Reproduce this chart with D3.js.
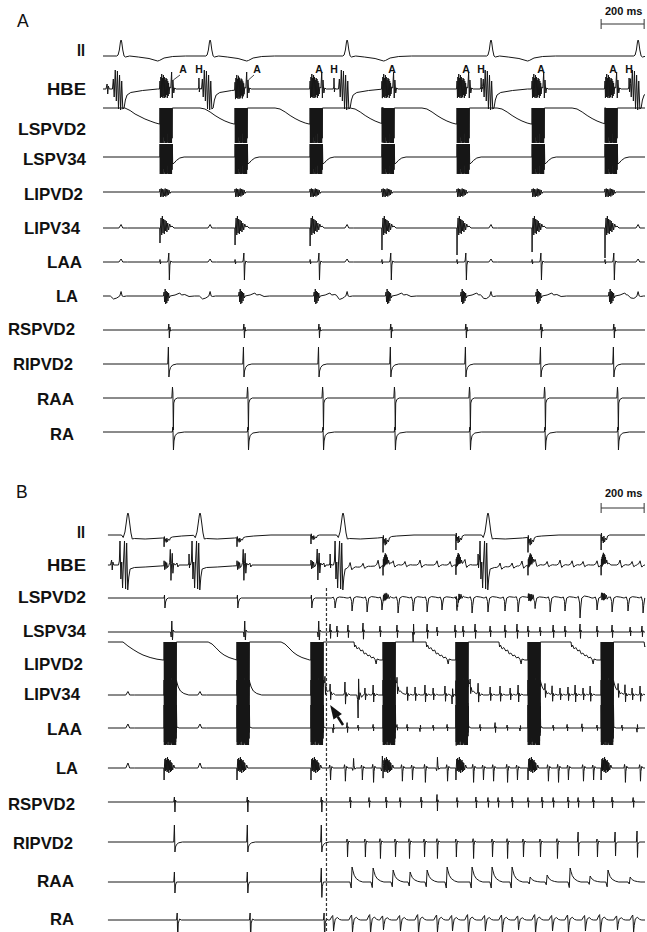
<!DOCTYPE html>
<html><head><meta charset="utf-8">
<script src="https://cdn.jsdelivr.net/npm/d3@7"></script>
<style>body{margin:0;background:#fff}svg{display:block}</style>
</head><body>
<svg id="c" width="647" height="932"></svg>
<script>
// ================= DATA =================
const channels = ["II","HBE","LSPVD2","LSPV34","LIPVD2","LIPV34","LAA","LA","RSPVD2","RIPVD2","RAA","RA"];
const scaleBarMs = 200;

// Panel A (times in ms)
const pacingA = [265, 614, 963, 1297, 1646, 1995, 2334];
const qrsA = [84, 498, 1135, 1804, 2488];
const hisA = [446, 1074, 1758, 2446];
const aLabelA = [372, 716, 1004, 1344, 1688, 2037, 2372];
const lipv34DepthA = [1.5, 1.7, 1.8, 2.2, 2.7, 2.4, 3.0];

// Panel B (times in ms)
const pacingB = [284, 623, 967, 1302, 1641, 1976, 2316];
const qrsB = [116, 451, 1116, 1790];
const hisB = [400, 1056, 1744];
const afOnsetB = 1039;
const raaAmpB = [1, 1, 1.4];
const stimIIAmpB = [0.6, 0.6, 0.6, 1, 1, 1, 1];

// AF activations in panel B: [time ms, amplitude]
const afHBE = [[1149,0.7],[1209,0.5],[1279,0.8],[1349,0.6],[1404,0.5],[1474,0.7],[1553,0.6],[1614,0.5],[1683,0.7],[1846,0.6],[1902,0.5],[1948,0.7],[2009,0.6],[2065,0.5],[2125,0.7],[2181,0.6],[2232,0.5],[2297,0.6],[2404,0.7],[2460,0.5],[2497,0.6]];
const afLSPVD2 = [[1079,1.0],[1158,1.3],[1228,1.4],[1297,1.2],[1372,1.5],[1442,1.3],[1507,1.4],[1576,1.2],[1646,1.3],[1716,1.5],[1790,1.4],[1869,1.3],[1930,1.4],[2009,1.1],[2079,1.4],[2148,1.3],[2218,2.0],[2297,1.2],[2367,1.4],[2441,1.3],[2511,1.5]];
const afLSPV34 = [[1056,0.8],[1088,0.6],[1139,0.7],[1209,0.9],[1288,0.6],[1367,0.7],[1442,-1.0],[1507,0.8],[1553,0.5],[1637,0.7],[1674,0.6],[1730,0.8],[1800,0.6],[1869,0.7],[1925,0.8],[1976,0.6],[2032,0.5],[2093,0.7],[2148,0.6],[2218,0.8],[2297,0.6],[2367,0.7],[2451,0.5],[2506,0.6]];
const afLIPV34 = [[1032,1.0],[1056,0.9],[1125,1.3],[1186,-2.3],[1218,0.7],[1256,1.0],[1367,0.9],[1414,0.8],[1451,0.8],[1497,1.0],[1535,0.7],[1590,0.9],[1623,-0.9],[1707,0.8],[1744,1.1],[1800,0.8],[1846,0.9],[1893,0.7],[1930,1.0],[2055,0.8],[2088,0.9],[2125,0.7],[2162,0.8],[2195,1.0],[2232,0.7],[2265,0.9],[2395,0.8],[2427,1.0],[2460,0.7],[2497,0.9]];
const afLAA = [[1070,-0.8],[1135,0.9],[1186,0.5],[1256,0.6],[1367,0.5],[1414,0.6],[1474,-0.6],[1535,0.5],[1600,0.6],[1697,0.5],[1753,0.6],[1823,0.9],[1879,0.5],[1939,-0.5],[2032,0.6],[2093,0.5],[2158,0.6],[2227,0.7],[2297,0.5],[2358,0.6],[2413,0.5],[2483,-0.7]];
const afLA = [[1056,1.0],[1125,1.1],[1163,-0.8],[1204,1.0],[1256,1.2],[1297,-1.0],[1390,1.1],[1437,1.0],[1497,1.2],[1553,-0.9],[1600,1.1],[1721,1.2],[1767,1.0],[1814,1.1],[1879,1.2],[1925,1.0],[2069,1.1],[2116,1.2],[2162,1.0],[2232,1.1],[2279,1.0],[2427,1.2],[2497,1.1]];
const afRSPVD2 = [[1149,1.0],[1237,0.9],[1316,1.0],[1381,0.9],[1479,1.0],[1553,1.5],[1646,0.9],[1734,1.0],[1790,0.9],[1837,0.9],[1902,1.0],[1976,0.9],[2041,1.0],[2093,0.9],[2162,1.0],[2209,0.9],[2279,1.0],[2367,1.0],[2465,0.9]];
const afRIPVD2 = [[1135,1.0],[1218,1.0],[1288,1.1],[1358,1.0],[1423,1.1],[1493,1.0],[1553,1.1],[1641,1.0],[1721,1.1],[1809,1.0],[1879,1.1],[1953,1.0],[2032,1.0],[2111,1.1],[2297,1.0]];
const afRIPVD2Up = [[2209,1.0],[2381,1.0],[2483,1.1]];
const afRAA = [[1158,1.5],[1256,1.4],[1349,1.2],[1428,1.0],[1507,1.2],[1600,1.5],[1716,1.5],[1809,1.5],[1902,1.5],[1986,0.5],[2065,0.7],[2172,1.4],[2265,0.6],[2348,1.2],[2451,0.5]];
const afRA = [[1070,1.0],[1158,1.1],[1242,1.2],[1302,0.9],[1381,1.0],[1465,1.2],[1553,1.1],[1623,1.0],[1697,1.2],[1776,1.0],[1855,1.1],[1930,0.9],[2009,1.2],[2088,1.0],[2162,1.1],[2241,1.0],[2311,1.2],[2390,0.9],[2465,1.1]];

// Waveform templates: [ms offset, amplitude]
const blockPattern = [1,0.92,1,0.55,0.98,1,0.7,1,0.9,0.6,1,0.95,1,0.5,0.97,1,0.8,1,0.65,1,0.9,1,0.75];
const tplQrsA = [[-20,0],[-14,0.1],[-8,0.6],[-3,1.4],[0,1.6],[3,1.4],[8,0.6],[14,0],[20,-0.1],[40,0],[80,-0.1],[130,-0.25],[170,-0.5],[178,-0.45],[200,-0.2],[240,-0.05],[300,0]];
const tplQrsB = [[-30,0],[-22,-0.25],[-14,0.3],[-8,1.2],[-3,2.0],[0,2.2],[3,2.0],[8,1.2],[14,0.2],[20,-0.4],[30,-0.35],[80,-0.4],[160,-0.3],[250,-0.1],[330,0]];
const tplStimII = [[-1,0],[0,-1.5],[1.5,0.2],[4,-0.6],[7,-0.2],[10,-0.8],[13,-0.1],[16,-0.7],[20,-0.3],[25,-0.5],[30,-0.1],[40,0]];
const tplHbeSmall = [[-5,0],[0,0.5],[3,-0.5],[6,0.3],[10,0]];
const tplHbePaceA = [[-2,0],[0,0.8],[2,-0.9],[4,1.2],[6,-0.8],[8,1.5],[10,-0.8],[12,1.1],[14,-0.9],[16,1.4],[18,-0.7],[20,1.2],[22,-0.9],[24,0.9],[26,-0.8],[28,1.1],[30,-0.6],[32,1.0],[34,-0.9],[36,0.8],[38,-0.7],[40,0.6],[42,-0.5],[45,0.2],[50,0.1],[54,1.7],[57,-0.9],[60,0.9],[64,-0.4],[68,0.1],[75,0]];
const tplHis = [[-4,0],[-1,0.2],[0,1.1],[2,-0.3],[4,0.1],[7,0]];
const tplHbeVA = [[-40,0],[-36,1.0],[-32,-0.8],[-27,1.9],[-22,-1.2],[-17,1.8],[-12,-2.0],[-7,1.4],[-2,-2.1],[3,0.8],[8,-2.0],[14,-1.9],[20,-1.1],[28,-0.6],[45,-0.35],[100,-0.15],[170,0]];
const tplHbePaceB = [[-1,0],[0,0.5],[3,-0.4],[6,0.4],[9,-0.3],[12,0.3],[16,-0.2],[22,0],[26,0.3],[29,1.6],[32,-1.5],[35,0.2],[38,1.2],[41,-0.8],[45,0.2],[52,0],[60,0.2],[64,-0.2],[70,0]];
const tplHbePaceAF = [[-1,0],[0,-1.0],[1.5,0.6],[3,-0.2],[4.5,0.8],[6,-0.1],[7.5,1.0],[9,0],[10.5,1.2],[12,0.1],[13.5,1.1],[15,0.2],[16.5,1.0],[18,0.1],[20,0.8],[23,0.2],[26,0.5],[30,0.1],[36,0.2],[45,0]];
const tplHbeVB = [[-44,0],[-40,0.4],[-37,2.4],[-33,-1.4],[-29,0.3],[-25,-2.3],[-21,0.2],[-16,2.4],[-11,-2.4],[-6,2.2],[-1,-2.5],[4,-1.2],[10,-0.4],[30,-0.25],[80,-0.2],[150,-0.1],[230,0]];
const tplAfBump = [[-15,0],[-6,0.2],[0,0.7],[4,0.1],[8,-0.35],[15,-0.1],[25,0.05],[35,0]];
const tplD2TailA = [[0,1.6],[102,1.6],[126,1.35],[149,1.0],[172,0.75],[195,0.5],[219,0.3],[242,0.12],[262,0]];
const tailD2A = [[60,1.6],[186,1.6],[209,1.5],[233,1.2],[256,0.85],[279,0.55],[302,0.3],[326,0.1],[344,0]];
const tail34A = [[59,-0.7],[66,-0.6],[76,-0.35],[92,-0.1],[112,0]];
const tplLipvd2BurstA = [[-2,0],[0,0.3],[3,-0.5],[6,0.35],[9,-0.45],[12,0.3],[15,-0.5],[18,0.25],[21,-0.4],[24,0.35],[27,-0.45],[30,0.3],[33,-0.35],[36,0.25],[39,-0.3],[42,0.2],[46,-0.15],[50,0]];
const tplSpikeDown = [[-1,0],[0,-1],[1.5,0]];
const tplLipv34BurstA = [[2,0],[5,1.0],[8,-0.7],[11,1.2],[14,-0.5],[17,0.9],[20,-0.6],[23,0.8],[26,-0.3],[29,0.7],[32,-0.4],[36,0.5],[40,-0.2],[45,0.4],[50,0.1],[56,0.2],[65,0]];
const tplFF = [[-10,0],[0,1],[8,0],[30,0]];
const tplStimNotch = [[-1,0],[0,0.25],[2,-0.2],[4,0]];
const tplLaaA = [[35,0],[38,0.2],[41,0.9],[43.5,-1.8],[46,-0.3],[50,0.1],[56,0]];
const tplLaA = [[16,0],[19,0.4],[21.5,-0.6],[24,0.7],[26.5,-0.8],[29,0.5],[31.5,-0.7],[34,0.4],[37,-0.5],[40,0.3],[43,-0.2],[47,0],[70,0.1],[92,0.3],[100,0.1],[115,0.15],[135,-0.05],[160,0]];
const tplLaFF = [[-50,0],[-35,-0.3],[-20,-0.2],[-6,0],[0,0.45],[5,0],[12,-0.05],[25,0]];
const tplRspvA = [[38,0],[41,0.6],[43.5,-0.8],[46,0.3],[49,-0.1],[55,0]];
const tplRipvA = [[36,0],[39,1.7],[41.5,-1.3],[44,-0.7],[49,-0.35],[59,-0.1],[78,0]];
const tplRaaA = [[55,0],[58,1.1],[60,0.5],[62,-3.2],[64,-0.5],[69,-0.15],[80,0]];
const tplRaA = [[57,0],[60,0.5],[62.5,-1.8],[65,-0.9],[70,-0.35],[83,-0.1],[113,0]];
const tplLspvd2SpikeB = [[0,0],[2,0.3],[4,-1.0],[7,-0.4],[12,-0.1],[20,0]];
const tplSmallBurst = [[0,0],[2,0.5],[4,-0.4],[6,0.5],[8,-0.3],[10,0.4],[12,-0.4],[14,0.5],[16,-0.3],[18,0.4],[20,-0.2],[24,0.3],[28,-0.2],[34,0.1],[40,0]];
const tplAfDip = [[-18,0],[-8,0.08],[-2,-0.25],[0,-1],[3,-0.5],[8,0],[20,0.1],[40,0.06],[55,0]];
const tplLspv34SpikeB = [[30,0],[33,-0.5],[36,1.1],[39,-0.8],[42,0.2],[48,0]];
const tplAfBi = [[-3,0],[0,1],[2,-0.8],[4,0.25],[7,0]];
const tplD2TailB = [[0,1.8],[93,1.8],[116,1.4],[140,1.05],[163,0.75],[186,0.5],[219,0.25],[251,0.08],[279,0]];
const tailD2B = [[60,1.8],[205,1.8],[223,1.6],[242,1.2],[260,0.8],[279,0.5],[302,0.25],[326,0.08],[338,0]];
const tailD2BAF = [[60,1.8],[200,1.8],[203,1.3],[207,1.5],[215,1.1],[222,1.25],[232,0.9],[240,1.0],[248,0.6],[255,0.7],[265,0.4],[272,0.5],[282,0.2],[290,0.3],[298,0.05],[303,-0.4],[307,0.1],[320,0]];
const tail34B = [[59,1.3],[66,0.8],[76,0.4],[92,0.15],[115,0]];
const tailLaaB = [[59,0.1],[70,0]];
const tplAfBi34 = [[-6,0],[-2,0.2],[0,1],[2.5,-0.7],[5,0.2],[9,-0.1],[16,0.1],[24,0]];
const tplAfBiSmall = [[-3,0],[0,0.6],[2,-0.5],[4,0.15],[7,0]];
const tplLaBurstB = [[-1,0],[0,-1.2],[2,0.3],[4,0.9],[6,-0.3],[8,1.0],[10,-0.2],[12,0.8],[14,-0.4],[16,1.1],[18,-0.3],[20,0.9],[22,-0.5],[24,0.7],[26,-0.2],[28,0.8],[30,-0.4],[32,0.6],[34,-0.3],[36,0.5],[40,-0.2],[45,0.3],[50,0],[60,0]];
const tplAfLa = [[-5,0],[-2,0.3],[0,0.1],[2,-1.2],[4,-0.3],[8,0.15],[14,0]];
const tplRspvB = [[45,0],[48,0.5],[50.5,-1.0],[53,0.2],[57,0]];
const tplAfRspv = [[-3,0],[0,0.5],[2,-0.6],[4,0.15],[7,0]];
const tplRipvB = [[45,0],[48,1.7],[50.5,-1.0],[53,-0.5],[58,-0.25],[68,-0.08],[85,0]];
const tplAfRipv = [[-3,0],[0,0.3],[2,-1.5],[4,-0.3],[8,0.1],[14,0]];
const tplAfRipvUp = [[-3,0],[0,1.0],[2,-1.4],[4,-0.2],[10,0]];
const tplRaaB = [[45,0],[48,1.0],[50.5,-1.1],[53,-0.3],[58,0]];
const tplAfRaa = [[-10,0],[-4,-0.4],[0,1.0],[4,0.75],[10,0.45],[20,0.22],[35,0.07],[50,0]];
const tplRaB = [[58,0],[61,0.7],[63.5,-2.0],[66,-0.3],[72,0.1],[80,0]];
const tplAfRa = [[-15,0],[-6,0.35],[-2,0.45],[0,-0.1],[2,-1.1],[5,-0.5],[10,0.1],[20,0.25],[30,0.05],[40,0]];

// ================= LAYOUT =================
const baseA = [56, 89, 124, 157, 192, 228, 262, 296, 330, 364, 398, 432];
const baseB = [535, 565, 598, 632, 660, 695, 728, 768, 802, 842, 882, 920];
const labelYA = [50, 89, 129, 159, 194, 228, 262, 296, 329, 364, 399, 434];
const labelYB = [532, 565, 597, 631, 664, 694, 729, 768, 804, 843, 881, 919];
const labelRight = [85, 86, 86, 86, 83, 80, 82, 78, 75, 73, 74, 74];
const labelWidth = [8, 39, 68, 63, 59, 56, 35, 22, 67, 60, 37, 24];

// ================= BUILD =================
const svg = d3.select("#c");
const x = d3.scaleLinear().domain([0, 2520]).range([103, 645]);
const ink = "#161616";
const font = "Liberation Sans, Arial, sans-serif";

function makeBlock(hi, lo, tail) {
  const pts = [[-0.5, 0], [0, hi]];
  blockPattern.forEach((f, i) => { pts.push([1.25 + i * 2.5, lo * f]); pts.push([2.5 + i * 2.5, hi]); });
  return pts.concat(tail);
}
const bis = d3.bisector(d => d[0]).right;
function tplValue(tpl, dt) {
  const n = tpl.length;
  if (dt < tpl[0][0] || dt > tpl[n - 1][0]) return 0;
  const i = bis(tpl, dt);
  if (i >= n) return tpl[n - 1][1];
  if (i === 0) return tpl[0][1];
  const a = tpl[i - 1], b = tpl[i];
  return a[1] + (b[1] - a[1]) * (dt - a[0]) / (b[0] - a[0]);
}
function ev(times, tpl, amps) {
  return times.map((t, i) => ({ t, tpl, a: amps == null ? 1 : (Array.isArray(amps) ? amps[i] : amps) }));
}
function evPairs(pairs, tpl) { return pairs.map(([t, a]) => ({ t, tpl, a })); }
function buildSignal(events, t0, t1) {
  const ts = new Set([t0, t1]);
  events.forEach(e => e.tpl.forEach(k => { const t = e.t + k[0]; if (t > t0 && t < t1) ts.add(t); }));
  const arr = Array.from(ts).sort((a, b) => a - b);
  return arr.map(t => [t, d3.sum(events, e => e.a * tplValue(e.tpl, t - e.t))]);
}

const blockD2A = makeBlock(1.6, -1.9, tailD2A);
const block34A = makeBlock(1.3, -1.7, tail34A);
const blockD2B = makeBlock(1.8, -3.6, tailD2B);
const blockD2BAF = makeBlock(1.8, -3.6, tailD2BAF);
const block34B = makeBlock(1.5, -5.0, tail34B);
const blockLaaB = makeBlock(2.3, -1.4, tailLaaB);

const pre = pacingB.slice(0, 3), postP = pacingB.slice(3);
const eventsA = [
  ev(qrsA, tplQrsA),
  [].concat(ev([19], tplHbeSmall), ev(pacingA, tplHbePaceA), ev(hisA, tplHis), ev(qrsA, tplHbeVA)),
  [].concat(ev([0], tplD2TailA), ev(pacingA, blockD2A)),
  ev(pacingA, block34A),
  ev(pacingA, tplLipvd2BurstA),
  [].concat(ev(pacingA, tplSpikeDown, lipv34DepthA), ev(pacingA, tplLipv34BurstA), ev(qrsA, tplFF, 0.35)),
  [].concat(ev(pacingA, tplStimNotch), ev(pacingA, tplLaaA), ev(qrsA, tplFF, 0.3)),
  [].concat(ev(pacingA, tplLaA), ev(qrsA, tplLaFF)),
  ev(pacingA, tplRspvA),
  ev(pacingA, tplRipvA),
  ev(pacingA, tplRaaA),
  ev(pacingA, tplRaA)
];
const eventsB = [
  [].concat(ev(qrsB, tplQrsB), ev(pacingB, tplStimII, stimIIAmpB)),
  [].concat(ev([40], tplHbeSmall), ev(pre, tplHbePaceB), ev(postP, tplHbePaceAF), ev(hisB, tplHis), ev(qrsB, tplHbeVB), evPairs(afHBE, tplAfBump)),
  [].concat(ev(pre, tplLspvd2SpikeB), ev(postP, tplSmallBurst, 0.8), evPairs(afLSPVD2, tplAfDip)),
  [].concat(ev(pre, tplLspv34SpikeB), evPairs(afLSPV34, tplAfBi)),
  [].concat(ev([0], tplD2TailB), ev(pacingB.slice(0, 2), blockD2B), ev(pacingB.slice(2), blockD2BAF)),
  [].concat(ev(pacingB, block34B), ev(qrsB.slice(0, 2), tplFF, 0.35), evPairs(afLIPV34, tplAfBi34)),
  [].concat(ev(pacingB, blockLaaB), ev(qrsB.slice(0, 2), tplFF, 0.4), evPairs(afLAA, tplAfBiSmall)),
  [].concat(ev(pacingB, tplLaBurstB), ev(qrsB.slice(0, 2), tplFF, 0.5), evPairs(afLA, tplAfLa)),
  [].concat(ev(pre, tplRspvB), evPairs(afRSPVD2, tplAfRspv)),
  [].concat(ev(pre, tplRipvB), evPairs(afRIPVD2, tplAfRipv), evPairs(afRIPVD2Up, tplAfRipvUp)),
  [].concat(ev(pre, tplRaaB, raaAmpB), evPairs(afRAA, tplAfRaa)),
  [].concat(ev(pre, tplRaB), evPairs(afRA, tplAfRa))
];

function drawPanel(events, bases, labelY, t0) {
  const g = svg.append("g");
  channels.forEach((name, i) => {
    const y = d3.scaleLinear().domain([-1, 1]).range([bases[i] + 10, bases[i] - 10]);
    const data = buildSignal(events[i], t0, 2520);
    g.append("path").attr("d", d3.line().x(d => x(d[0])).y(d => y(d[1]))(data))
      .attr("fill", "none").attr("stroke", ink).attr("stroke-width", 1).attr("stroke-linejoin", "round");
    g.append("text").attr("x", labelRight[i]).attr("y", labelY[i] + 6)
      .attr("text-anchor", "end").attr("font-family", font)
      .attr("font-weight", "bold").attr("font-size", 16.5).attr("fill", "#111")
      .attr("textLength", labelWidth[i]).attr("lengthAdjust", "spacingAndGlyphs").text(name);
  });
  return g;
}
drawPanel(eventsA, baseA, labelYA, 0);
drawPanel(eventsB, baseB, labelYB, 23);

// panel letters
svg.append("text").attr("x", 17).attr("y", 27).attr("font-family", font).attr("font-size", 17.5).attr("fill", "#111").text("A");
svg.append("text").attr("x", 16).attr("y", 498).attr("font-family", font).attr("font-size", 17.5).attr("fill", "#111").text("B");

// scale bars
function scaleBar(yBar, yText) {
  const t0 = 2316, x0 = x(t0), x1 = x(t0 + scaleBarMs);
  const g = svg.append("g").attr("stroke", "#333").attr("stroke-width", 1);
  g.append("line").attr("x1", x0).attr("x2", x1).attr("y1", yBar).attr("y2", yBar);
  g.append("line").attr("x1", x0).attr("x2", x0).attr("y1", yBar - 5).attr("y2", yBar + 5);
  g.append("line").attr("x1", x1).attr("x2", x1).attr("y1", yBar - 5).attr("y2", yBar + 5);
  svg.append("text").attr("x", (x0 + x1) / 2 + 1).attr("y", yText).attr("text-anchor", "middle")
    .attr("font-family", font).attr("font-weight", "bold").attr("font-size", 11).attr("fill", "#111")
    .text(scaleBarMs + " ms");
}
scaleBar(24, 15);
scaleBar(508, 497);

// A / H annotations (panel A, HBE)
const yH = d3.scaleLinear().domain([-1, 1]).range([baseA[1] + 10, baseA[1] - 10]);
const ann = svg.append("g").attr("font-family", font).attr("font-weight", "bold").attr("font-size", 10.5).attr("fill", "#111").attr("text-anchor", "middle");
aLabelA.forEach(t => ann.append("text").attr("x", x(t)).attr("y", 73).text("A"));
hisA.forEach(t => ann.append("text").attr("x", x(t)).attr("y", 73).text("H"));
aLabelA.slice(0, 2).forEach((t, i) => {
  svg.append("line").attr("x1", x(t) - 3).attr("y1", yH(1.4)).attr("x2", x(pacingA[i] + 62)).attr("y2", yH(0.9))
    .attr("stroke", ink).attr("stroke-width", 0.8);
});

// dashed AF-onset line (panel B)
svg.append("line").attr("x1", x(afOnsetB)).attr("x2", x(afOnsetB)).attr("y1", 588).attr("y2", 932)
  .attr("stroke", "#333").attr("stroke-width", 1.2).attr("stroke-dasharray", "3,2");

// arrow (panel B, LIPV34)
const yL = d3.scaleLinear().domain([-1, 1]).range([baseB[5] + 10, baseB[5] - 10]);
const tip = [x(1056), yL(-1.0)], tail = [x(1116), yL(-3.0)];
const dx = tail[0] - tip[0], dy = tail[1] - tip[1], L = Math.hypot(dx, dy), ux = dx / L, uy = dy / L;
const bc = [tip[0] + 14 * ux, tip[1] + 14 * uy];
svg.append("polygon").attr("points", [tip, [bc[0] - 5 * uy, bc[1] + 5 * ux], [bc[0] + 5 * uy, bc[1] - 5 * ux]].map(p => p.join(",")).join(" ")).attr("fill", "#111");
svg.append("line").attr("x1", bc[0]).attr("y1", bc[1]).attr("x2", tail[0]).attr("y2", tail[1]).attr("stroke", "#111").attr("stroke-width", 2.5);
</script>
</body></html>
